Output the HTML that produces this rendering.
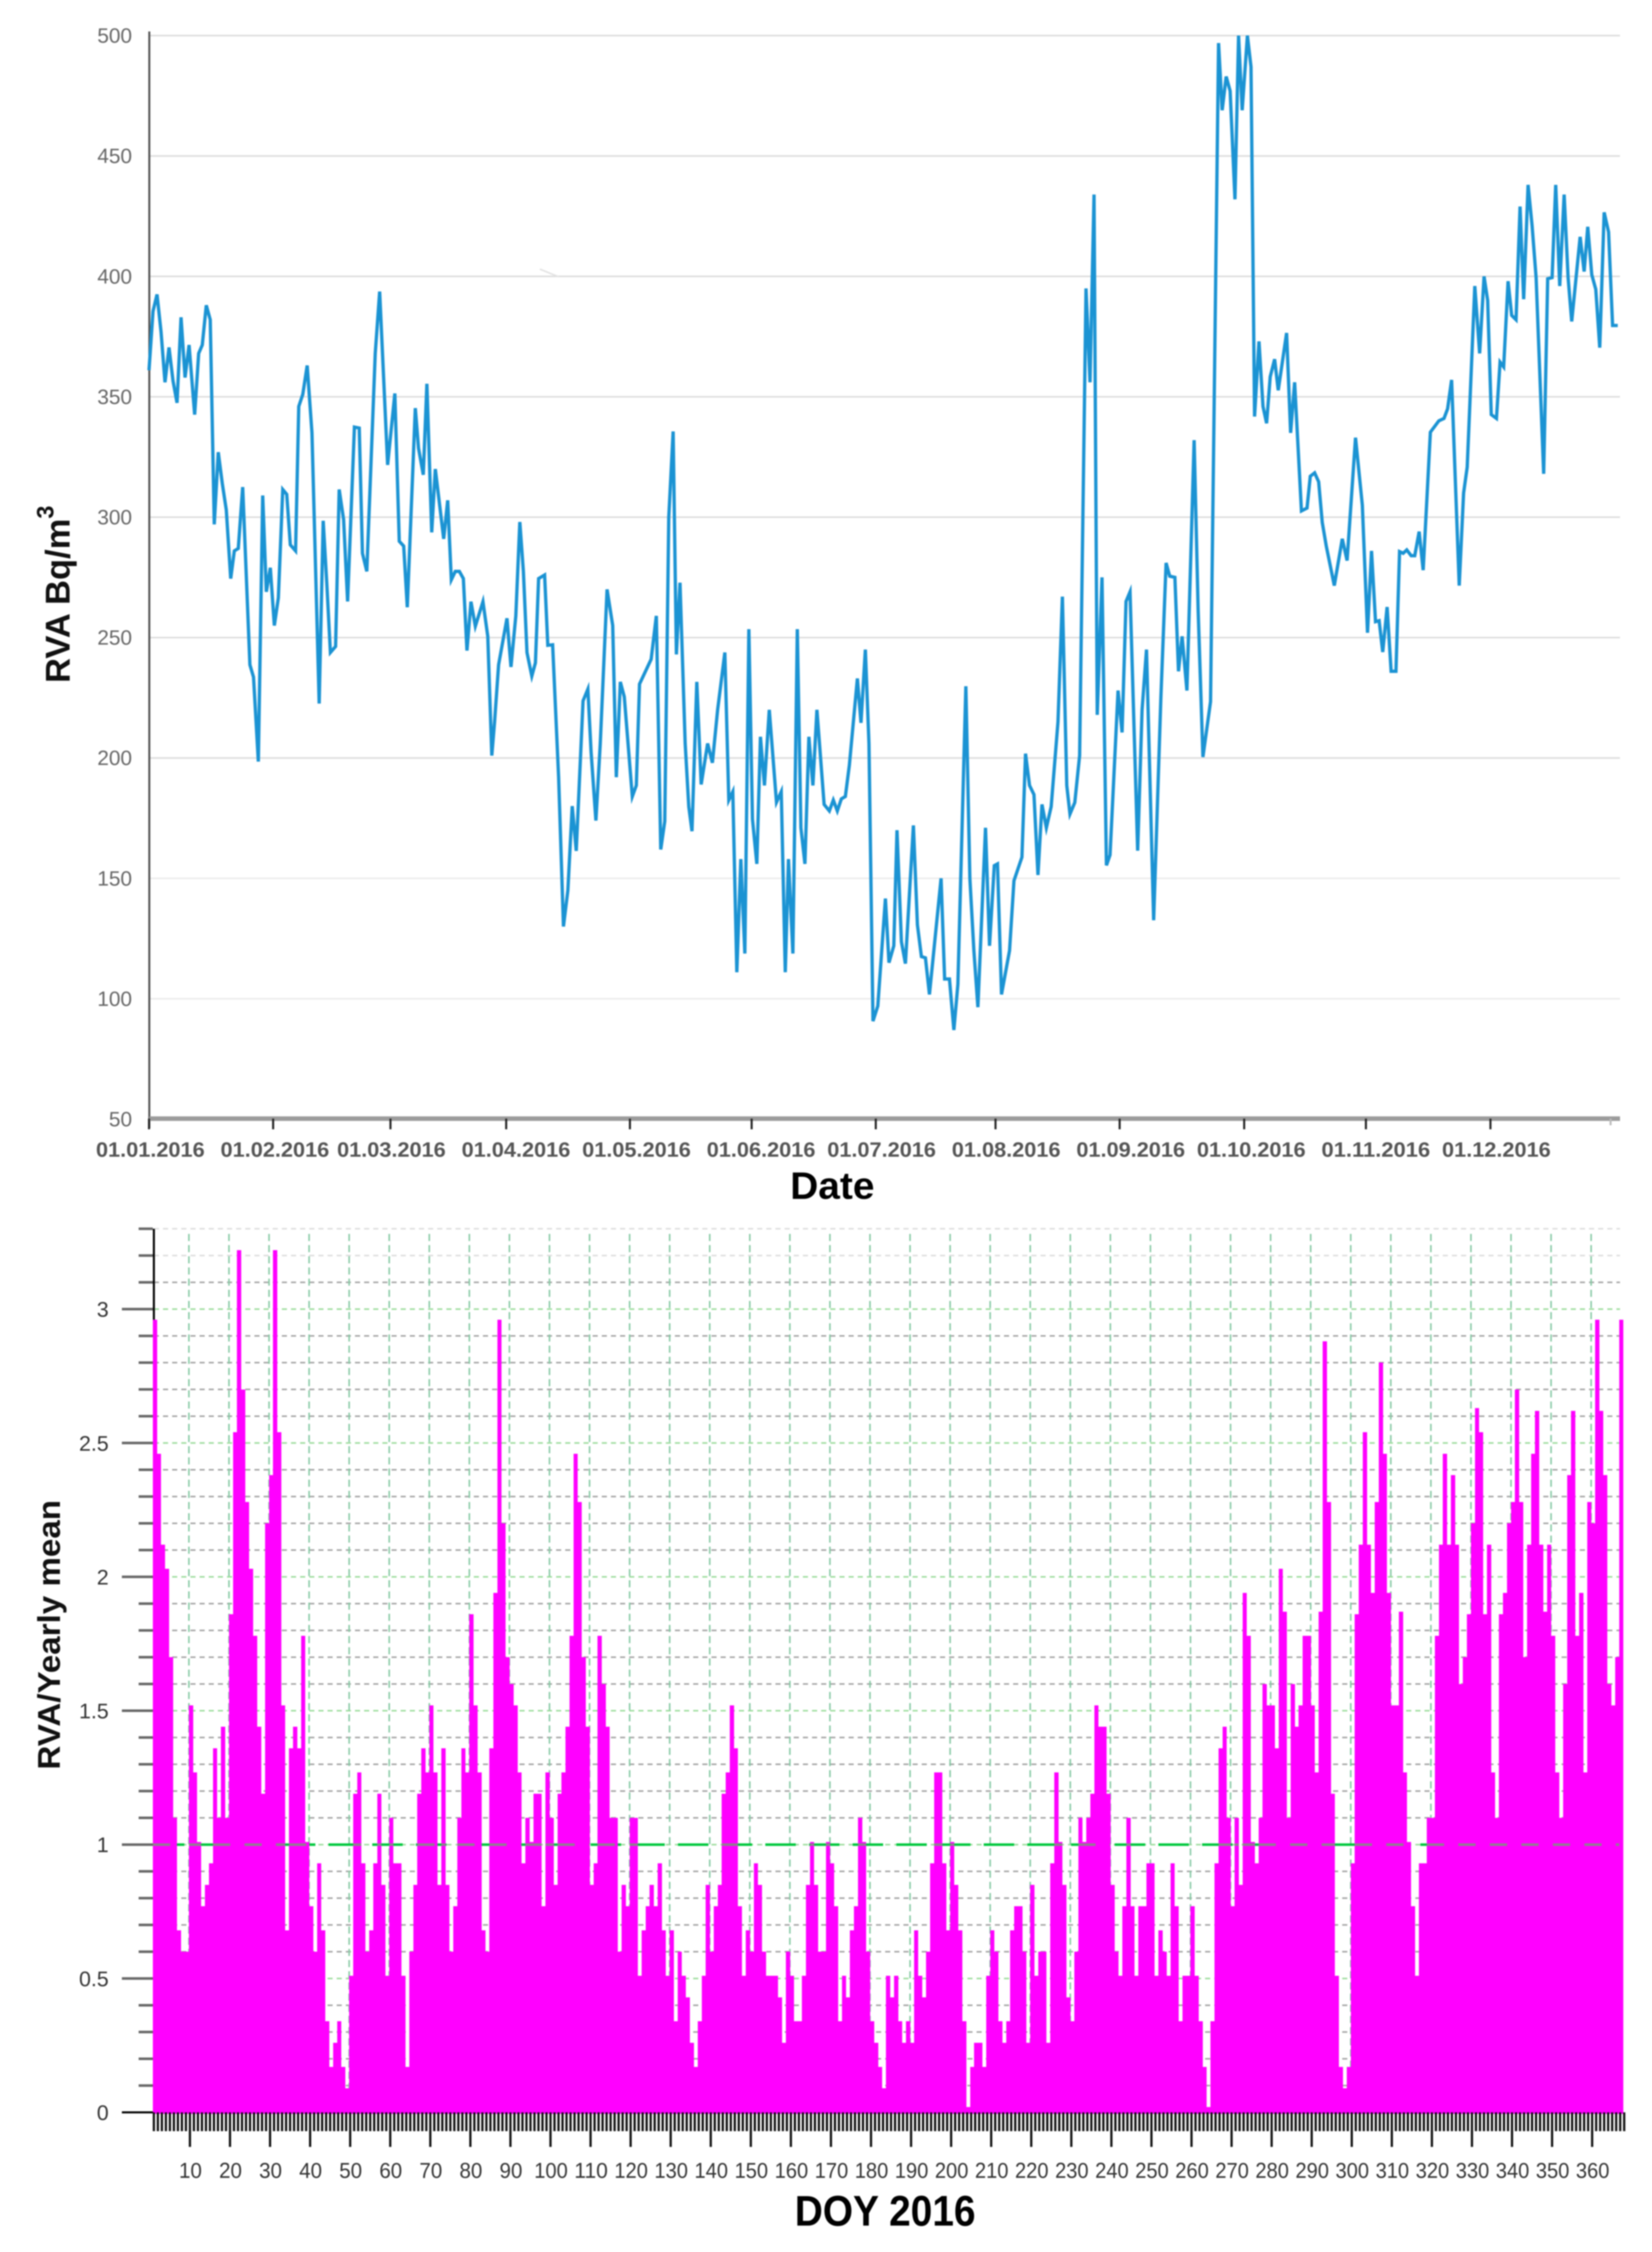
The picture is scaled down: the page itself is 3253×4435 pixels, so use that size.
<!DOCTYPE html>
<html lang="en">
<head>
<meta charset="utf-8">
<title>RVA 2016 charts</title>
<style>
html,body{margin:0;padding:0;background:#fff;}
svg{display:block;font-family:"Liberation Sans",Arial,sans-serif;}
#top-chart,#bottom-chart{filter:blur(1.2px);}
</style>
</head>
<body>
<svg id="figure" xmlns="http://www.w3.org/2000/svg" width="3253" height="4435" viewBox="0 0 3253 4435">
  <rect x="0" y="0" width="3253" height="4435" fill="#ffffff"/>
  <g id="top-chart">
    <g id="top-grid"></g>
    <line x1="1063" y1="530" x2="1100" y2="545" stroke="#e2e2e2" stroke-width="3"/>
    <line x1="294" y1="62" x2="294" y2="2222" stroke="#555555" stroke-width="4"/>
    <line x1="294" y1="2203" x2="3190" y2="2203" stroke="#9c9c9c" stroke-width="9"/>
    <g id="top-ticks"></g>
    <g id="top-y-labels"></g>
    <g id="top-x-labels"></g>
    <polyline id="rva-line" fill="none" stroke="#1b93d3" stroke-width="6.5" stroke-linejoin="miter" stroke-miterlimit="5"/>
    <text transform="translate(137,1345) rotate(-90)" font-size="68" font-weight="bold" fill="#111">RVA Bq/m<tspan font-size="46" dy="-32">3</tspan></text>
    <text x="1556" y="2361" font-size="75" font-weight="bold" fill="#000" textLength="166" lengthAdjust="spacingAndGlyphs">Date</text>
  </g>
  <g id="bottom-chart">
    <g id="bottom-grid"></g>
    <line x1="303" y1="2420" x2="303" y2="4160" stroke="#000000" stroke-width="4"/>
    <g id="bottom-bars"></g>
    <g id="mean-over"></g>
    <g id="bottom-y-ticks"></g>
    <g id="bottom-x-ticks"></g>
    <g id="bottom-y-labels"></g>
    <g id="bottom-x-labels"></g>
    <text transform="translate(118,3485) rotate(-90)" font-size="62" font-weight="bold" fill="#111" textLength="531" lengthAdjust="spacingAndGlyphs">RVA/Yearly mean</text>
    <text x="1565" y="4383" font-size="84" font-weight="bold" fill="#000" textLength="356" lengthAdjust="spacingAndGlyphs">DOY 2016</text>
  </g>
</svg>
<script>
// ---- top chart data ----
const rvaDays = [0,1,2,3,4,5,6,7,8,9,10,11.4,12.4,13.3,14.3,15.3,16.3,17.3,18.3,19.3,20.4,21.3,22.3,23.4,25.2,26.1,27.3,28.4,29.3,30.3,31.3,32.3,33.4,34.4,35.3,36.6,37.4,38.4,39.5,40.7,42.5,43.5,44.4,45.3,46.6,47.5,48.6,49.6,51.3,52.5,53.3,54.4,56.5,57.6,59.6,61.4,62.5,63.6,64.5,66.5,67.3,68.5,69.4,70.6,71.5,73.6,74.6,75.5,76.5,77.5,78.5,79.4,80.4,81.5,83.4,84.6,85.6,86.3,87.3,89.4,90.4,91.6,92.6,93.5,94.4,95.6,96.5,97.3,98.8,99.6,100.8,102.3,103.5,104.6,105.7,106.7,108.4,109.6,110.4,111.6,112.7,114.4,115.8,116.7,117.7,118.7,120.7,121.7,122.5,125.4,126.7,127.8,128.8,129.8,130.9,131.7,132.6,133.9,134.8,135.6,136.8,137.9,139.5,140.7,142,143.8,144.8,145.8,146.8,147.8,148.8,149.8,150.7,151.8,152.7,153.7,154.9,156.7,157.9,158.9,159.7,160.8,161.9,162.8,163.8,164.8,165.8,166.8,168.6,169.9,170.9,171.9,172.9,173.9,174.9,176.9,177.8,178.9,179.8,180.8,182,183.9,184.8,186,186.8,187.9,188.9,190.9,191.9,192.9,193.9,194.9,197.8,198.7,199.9,201,202,204,205,206,207,208.9,209.9,211.1,211.9,212.9,214.9,216,218,218.9,219.9,221,222,223,224.1,225.3,227,228.1,229.2,230,231.2,232.4,234,235,236,236.8,238,239.1,240,242,243,244,245,246.9,248,249.1,250.9,252.7,254,254.9,256.2,257.1,258,259.2,261,262,263.2,265.1,267.1,268,269,270,271.2,272.1,273,274.3,275.2,276.1,277.2,278.2,279.1,280,281.1,282,284.1,285.1,286.1,287.8,289.2,290,291.1,292.1,293,294,296,298,299.2,301.3,303,304.3,305.3,306.3,307.2,308.1,309.2,310.2,311.4,312.3,313.2,314.1,315.2,316.1,317.2,318.2,320,322.1,323.4,324.3,325.3,327.2,328.3,329.2,331.1,332.3,333.4,334.3,335.2,336.5,337.4,338.3,339.4,340.3,341.4,342.4,343.3,344.4,345.4,346.4,348.3,349.3,350.4,351.3,352.3,353.4,354.4,355.3,357.4,358.4,359.3,360.3,361.3,362.3,363.4,364.5,365.5,366.8];
const rvaValues = [361,385.5,392.5,377,356,370.5,356.6,347.5,383,358,371.5,342.6,368,371.5,388,382,297,327,314,303,274.5,286,287,312.5,238.7,233.6,198.5,309,269,279,255,266.5,311.5,309.5,288.5,286,346,351,363,335,222.6,298.5,272.5,243.8,246.3,311.5,299,265,337.4,337,285,277.5,368,393.7,321.7,351.4,290,288,262.6,345.3,328.7,317.6,355.4,293.7,320,291,307,274,277.5,277.5,274.5,244.6,264.9,254.7,264.9,250.5,201,215,238.7,258,237.8,259,298,277.5,243.8,234,239.5,274.5,276,246.8,247,192,130,145,180,161.4,223.7,228.6,202.6,174,206,270,255,192,231.6,225.4,184,188.6,230.7,241,259,162,173.7,300,335.6,243,272.8,206,179.8,169.6,231.6,189,206,198,220,243.8,182.5,186,111,158,118.8,253.5,174.6,156,208.8,188.6,220,181.6,186,111,158,118.8,253.5,171,156,208.8,188.6,220,180.7,178,182.5,178,183,184,197,233,214.6,245,206,90.7,97,141.6,115,122,170,123.7,114.6,172,130.7,117.5,117,101.8,150,108.2,108.2,87,106,229.8,150,120,96.5,171,122,155.3,156,101.8,120,149,158.8,201.8,188.6,184.8,151.4,180.7,171,179.8,215,267,188.6,176.7,181.5,201,395,356,434,217.9,275,155.4,159.7,228,210.6,265,269,161.5,220,245,132.6,225,281,275.5,275,236,250.5,228,332,261.4,200.4,223.4,496.9,469,483,477,432,500,469,500,487,341.8,373,346,339,358.3,365.6,352.7,376.5,335,356,302.6,303.8,317,318.4,314.7,297.8,288,271.6,291,282,333,305,252,286,256.6,257,244,262.7,236,236,285.7,285,286.4,284,284,294,278,335.3,340,341,345,357,271.6,310,320.8,396,368,400,390,342.6,341,364.4,362.4,398,383.8,382,429,390.5,438,421,399.5,318,399,399.5,438,396,434,399.5,381.3,416.4,402,420.6,400.7,394.6,370.4,426.6,418.4,379.6,379.6];
const topYTicks = [50,100,150,200,250,300,350,400,450,500];
const monthLabels = ["01.01.2016","01.02.2016","01.03.2016","01.04.2016","01.05.2016","01.06.2016","01.07.2016","01.08.2016","01.09.2016","01.10.2016","01.11.2016","01.12.2016"];
const monthLabelDays = [0,31,60,91,121,152,182,213,244,274,305,335];
const monthTickDays = [0,31,60.3,89.2,120.1,150.5,181.5,211.4,242.4,273.5,303.9,335,365];

// ---- bottom chart data (day-of-year 1..367) ----
const ratioValues = [
2.96,2.46,2.12,2.03,1.7,1.1,.68,.6,.6,1.52,
1.27,1.01,.77,.85,.93,1.36,1.1,1.44,1.1,1.86,
2.54,3.22,2.7,2.28,2.03,1.78,1.44,1.19,2.2,2.38,
3.22,2.54,1.52,.68,1.36,1.44,1.36,1.78,1.01,.77,
.6,.93,.68,.34,.17,.26,.34,.17,.09,.51,
1.19,1.27,.93,.6,.68,.93,1.19,.85,.51,1.1,
.93,.93,.51,.17,.6,.85,1.19,1.36,1.27,1.52,
1.27,.85,1.36,.85,.6,.77,1.1,1.36,1.27,1.86,
1.52,1.27,.68,.6,1.36,1.94,2.96,2.2,1.7,1.6,
1.52,1.27,.93,1.1,1.01,1.19,1.19,.77,1.27,1.1,
.85,1.19,1.27,1.44,1.78,2.46,2.28,1.7,1.44,.85,
.93,1.78,1.6,1.44,1.1,1.1,.6,.85,.77,1.1,
1.1,.51,.68,.77,.85,.77,.93,.68,.51,.68,
.34,.6,.51,.43,.26,.17,.34,.51,.85,.6,
.77,.85,1.19,1.27,1.52,1.36,.77,.51,.68,.6,
.93,.85,.6,.51,.51,.51,.43,.26,.6,.51,
.34,.34,.51,.85,1.01,.85,.6,.6,1.01,.93,
.77,.34,.51,.43,.68,.77,1.1,1.01,.6,.34,
.26,.17,.09,.51,.43,.51,.34,.26,.34,.26,
.68,.51,.43,.6,.93,1.27,1.27,.93,.68,1.01,
.85,.68,.34,.02,.17,.26,.26,.17,.51,.68,
.6,.34,.26,.34,.68,.77,.77,.6,.26,.85,
.51,.6,.6,.26,.93,1.27,1.01,.85,.43,.34,
.6,1.1,1.01,1.1,1.19,1.52,1.44,1.44,1.19,.85,
.6,.51,.77,1.1,.77,.51,.77,.77,.93,.93,
.51,.68,.6,.51,.93,.77,.34,.51,.51,.77,
.51,.34,.17,.02,.34,.93,1.36,1.44,1.1,.77,
1.1,.85,1.94,1.78,1.01,.93,1.1,1.6,1.52,1.52,
1.36,2.03,1.87,1.1,1.6,1.44,1.52,1.78,1.78,1.52,
1.27,1.87,2.88,2.28,1.19,.51,.17,.09,.17,.93,
1.86,2.12,2.54,2.12,1.94,2.28,2.8,2.46,1.94,1.52,
1.52,1.87,1.27,1.01,.77,.51,.93,.93,1.1,1.1,
1.78,2.12,2.46,2.12,2.38,2.12,1.6,1.7,1.86,2.2,
2.63,2.54,1.86,2.12,1.27,1.1,1.86,1.94,2.2,2.28,
2.7,2.28,1.7,2.12,2.46,2.62,2.12,1.87,2.12,1.78,
1.27,1.1,1.6,2.38,2.62,1.78,1.94,1.27,2.28,2.2,
2.96,2.62,2.38,1.6,1.52,1.7,2.96];
const bottomYMajor = [0,0.5,1,1.5,2,2.5,3];
const bottomYLabels = ["0","0.5","1","1.5","2","2.5","3"];
const bottomXLabels = [10,20,30,40,50,60,70,80,90,100,110,120,130,140,150,160,170,180,190,200,210,220,230,240,250,260,270,280,290,300,310,320,330,340,350,360];
const meanLevel = 1;

// ---- axis functions ----
function topX(d){return 293.4+7.885*d;}
function topY(v){return 2204-(v-50)*4.742;}
function topLabelX(d){return 296+7.912*d;}
function botX(d){return 293.1+7.889*d;}
function botY(v){return 4160-527.3*v;}

const NS='http://www.w3.org/2000/svg';
function make(parent,tag,attrs,text){
  const el=document.createElementNS(NS,tag);
  for(const k in attrs){el.setAttribute(k,attrs[k]);}
  if(text!==undefined){el.textContent=text;}
  parent.appendChild(el);
  return el;
}
const byId=function(id){return document.getElementById(id);};

// ---- top chart ----
topYTicks.forEach(function(v){
  if(v>50){
    const g=make(byId('top-grid'),'line',{x1:294,x2:3190,y1:topY(v),y2:topY(v),stroke:v<=150?'#ebebeb':'#dcdcdc','stroke-width':3});
    
    
  }
  const t=make(byId('top-y-labels'),'text',{x:260,y:topY(v)+14,'text-anchor':'end','font-size':41,fill:'#666666'},String(v));
  
  
});
monthTickDays.forEach(function(d,i){
  const last=i===monthTickDays.length-1;
  const tk=make(byId('top-ticks'),'line',{x1:topX(d),x2:topX(d),y1:2203,y2:last?2216:2224,stroke:last?'#bbbbbb':'#222222','stroke-width':4});
  
  
});
monthLabels.forEach(function(s,i){
  const t=make(byId('top-x-labels'),'text',{x:topLabelX(monthLabelDays[i]),y:2278,'text-anchor':'middle','font-size':41,'font-weight':'bold',fill:'#555555',textLength:214,lengthAdjust:'spacingAndGlyphs'},s);
  
  
});
byId('rva-line').setAttribute('points',rvaDays.map(function(d,i){return topX(d).toFixed(1)+','+topY(rvaValues[i]).toFixed(1);}).join(' '));

// ---- bottom chart ----
for(let i=1;i<=33;i++){
  const v=i/10;
  const major=i%5===0;
  const gl=make(byId('bottom-grid'),'line',{x1:303,x2:3190,y1:botY(v),y2:botY(v),stroke:i>31?'#dddddd':(major?'#9bdc9b':'#a2a2a2'),'stroke-width':3,'stroke-dasharray':'10 8'});
  
  
}
bottomXLabels.forEach(function(d){
  const gl=make(byId('bottom-grid'),'line',{x1:botX(d),x2:botX(d),y1:2430,y2:4160,stroke:'#86c9a4','stroke-width':3,'stroke-dasharray':'14 8'});
  
  
});
const meanLine=make(byId('bottom-grid'),'line',{x1:303,x2:3190,y1:botY(meanLevel),y2:botY(meanLevel),stroke:'#00c83c','stroke-width':5,'stroke-dasharray':'60 26'});



ratioValues.forEach(function(v,i){
  const d=i+1;
  const b=make(byId('bottom-bars'),'rect',{x:botX(d),y:botY(v),width:8.3,height:botY(0)-botY(v)+3,fill:'#ff00ff','shape-rendering':'crispEdges'});
  
  
});
// mean line shows as grey dashes where bars rise above it
let runPath='';
let runStart=null;
ratioValues.forEach(function(v,i){
  const d=i+1;
  if(v>meanLevel&&runStart===null){runStart=d;}
  if((v<=meanLevel||i===ratioValues.length-1)&&runStart!==null){
    runPath+='M'+botX(runStart).toFixed(1)+' '+botY(meanLevel)+'H'+botX(d).toFixed(1);
    runStart=null;
  }
});
const overP=make(byId('mean-over'),'path',{d:runPath,fill:'none',stroke:'#8f7f8f','stroke-width':5,'stroke-dasharray':'34 28'});



for(let i=0;i<=33;i++){
  const v=i/10;
  const major=i%5===0;
  const tk=make(byId('bottom-y-ticks'),'line',{x1:major?240:273,x2:301,y1:botY(v),y2:botY(v),stroke:i===0?'#000000':'#666666','stroke-width':i===0?4:5});
  
  
}
for(let d=1;d<=368;d++){
  const long=d%10===0&&d<=360;
  const tk=make(byId('bottom-x-ticks'),'line',{x1:botX(d)+2,x2:botX(d)+2,y1:4160,y2:long?4228:4197,stroke:'#111111','stroke-width':4.4});
  
  
}
bottomYMajor.forEach(function(v,i){
  const t=make(byId('bottom-y-labels'),'text',{x:214,y:botY(v)+15,'text-anchor':'end','font-size':42,fill:'#333333'},bottomYLabels[i]);
  
  
});
bottomXLabels.forEach(function(d){
  const t=make(byId('bottom-x-labels'),'text',{x:botX(d)+3,y:4289,'text-anchor':'middle','font-size':43,fill:'#333333',textLength:d>=100?66:45,lengthAdjust:'spacingAndGlyphs'},String(d));
  
  
});
</script>
</body>
</html>
